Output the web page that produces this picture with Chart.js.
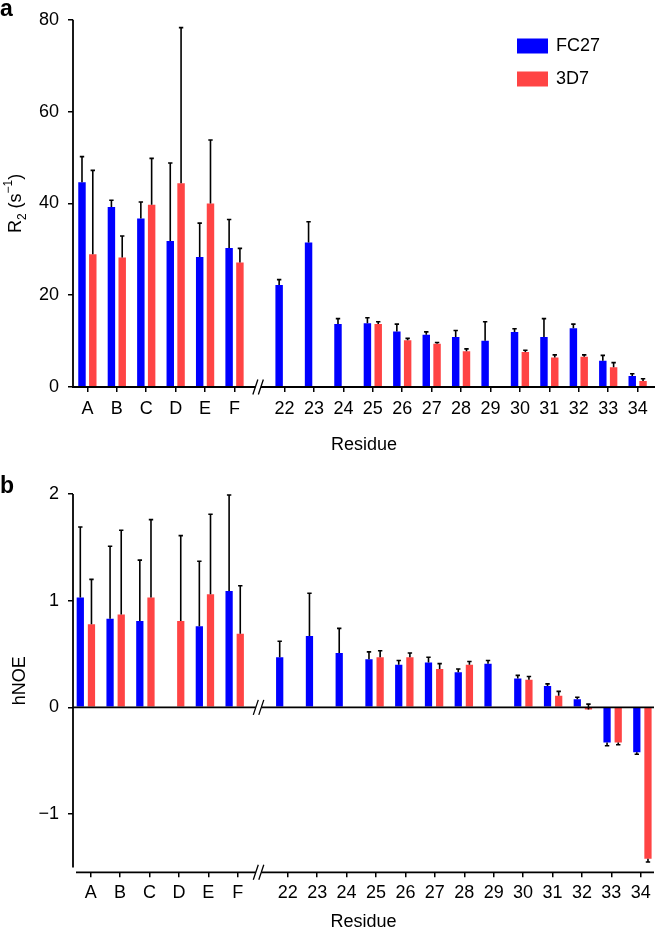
<!DOCTYPE html>
<html><head><meta charset="utf-8">
<script src="https://cdn.jsdelivr.net/npm/chart.js@4.4.1/dist/chart.umd.min.js"></script>
<style>
html,body{margin:0;padding:0;background:#fff;overflow:hidden;width:658px;height:929px;}
#wa{position:absolute;left:0;top:0;width:658px;height:462px;}
#wb{position:absolute;left:0;top:470px;width:658px;height:470px;}
canvas{display:block;}
</style></head><body>
<div id="wa"><canvas id="ca" width="658" height="462"></canvas></div>
<div id="wb"><canvas id="cb" width="658" height="470"></canvas></div>
<script>
// ---------------- data ----------------
const residues = ['A','B','C','D','E','F','22','23','24','25','26','27','28','29','30','31','32','33','34'];
const seriesNames = ['FC27', '3D7'];
const yTicksR2 = [0, 20, 40, 60, 80];
const yTicksNOE = [-1, 0, 1, 2];

const r2FC27    = [44.6, 39.2, 36.7, 31.8, 28.3, 30.3, 22.2, 31.5, 13.7, 13.9, 12.1, 11.4, 10.9, 10.1, 12.0, 10.9, 12.8, 5.7, 2.4];
const r2FC27Err = [5.6, 1.5, 3.6, 17.0, 7.4, 6.2, 1.2, 4.5, 1.2, 1.2, 1.6, 0.6, 1.4, 4.1, 0.7, 4.0, 0.9, 1.2, 0.5];
const r23D7     = [28.9, 28.2, 39.7, 44.4, 40.0, 27.1, null, null, null, 13.7, 10.2, 9.4, 7.8, null, 7.6, 6.4, 6.6, 4.3, 1.3];
const r23D7Err  = [18.3, 4.7, 10.1, 33.9, 13.8, 3.1, null, null, null, 0.5, 0.4, 0.3, 0.5, null, 0.4, 0.6, 0.4, 1.0, 0.5];

const noeFC27    = [1.03, 0.83, 0.81, null, 0.76, 1.09, 0.47, 0.67, 0.51, 0.45, 0.40, 0.42, 0.33, 0.41, 0.27, 0.20, 0.075, -0.33, -0.42];
const noeFC27Err = [0.66, 0.68, 0.57, null, 0.61, 0.90, 0.15, 0.40, 0.23, 0.07, 0.04, 0.05, 0.03, 0.03, 0.03, 0.02, 0.02, -0.03, -0.02];
const noe3D7     = [0.78, 0.87, 1.03, 0.81, 1.06, 0.69, null, null, null, 0.47, 0.47, 0.36, 0.40, null, 0.26, 0.11, -0.02, -0.33, -1.42];
const noe3D7Err  = [0.42, 0.79, 0.73, 0.80, 0.75, 0.45, null, null, null, 0.06, 0.04, 0.05, 0.03, null, 0.03, 0.04, 0.05, -0.02, -0.03];

// ---------------- styling / layout ----------------
const FONT = "'Liberation Sans', Arial, Helvetica, sans-serif";
const BLUE = '#0000ff';
const RED = '#ff4444';
Chart.defaults.font.family = FONT;
Chart.defaults.font.size = 18;
Chart.defaults.color = '#000';

// axis break between lettered and numbered residues
const nLetters = residues.filter(r => isNaN(Number(r))).length;
const BREAK_GAP = 0.7;
const xPos = residues.map((r, i) => i < nLetters ? i : i + BREAK_GAP);
const breakValue = nLetters - 1 + (1 + BREAK_GAP) / 2 - 0.05;
const pts = vals => vals.map((v, i) => ({x: xPos[i], y: v}));

const errorBarPlugin = {
  id: 'errorBars',
  afterDatasetsDraw(chart) {
    const ctx = chart.ctx;
    chart.data.datasets.forEach((ds, di) => {
      const meta = chart.getDatasetMeta(di);
      const ys = chart.scales.y;
      meta.data.forEach((bar, j) => {
        const v = ds.data[j].y, e = ds.errors[j];
        if (v == null || e == null) return;
        const y0 = ys.getPixelForValue(v), y1 = ys.getPixelForValue(v + e);
        ctx.save();
        ctx.strokeStyle = '#000';
        ctx.lineWidth = 1.6;
        ctx.beginPath();
        ctx.moveTo(bar.x, y0); ctx.lineTo(bar.x, y1);
        ctx.moveTo(bar.x - 2.2, y1); ctx.lineTo(bar.x + 2.2, y1);
        ctx.stroke();
        ctx.restore();
      });
    });
  }
};

function hLine(ctx, x0, x1, y, w) {
  ctx.save(); ctx.strokeStyle = '#000'; ctx.lineWidth = w;
  ctx.beginPath(); ctx.moveTo(x0, y); ctx.lineTo(x1, y); ctx.stroke(); ctx.restore();
}
function vLine(ctx, x, y0, y1, w) {
  ctx.save(); ctx.strokeStyle = '#000'; ctx.lineWidth = w;
  ctx.beginPath(); ctx.moveTo(x, y0); ctx.lineTo(x, y1); ctx.stroke(); ctx.restore();
}
function drawBreak(ctx, cx, cy) {
  ctx.save();
  ctx.fillStyle = '#fff';
  ctx.fillRect(cx - 2.7, cy - 2, 5.5, 4);
  ctx.strokeStyle = '#000'; ctx.lineWidth = 1.3;
  ctx.beginPath();
  ctx.moveTo(cx - 5.2, cy + 7.5); ctx.lineTo(cx - 0.2, cy - 7.5);
  ctx.moveTo(cx + 0.3, cy + 7.5); ctx.lineTo(cx + 5.3, cy - 7.5);
  ctx.stroke();
  ctx.restore();
}
function drawVerticalTitle(ctx, parts, xBase, yCenter, size) {
  const small = Math.round(size * 0.67);
  ctx.save();
  ctx.translate(xBase, yCenter);
  ctx.rotate(-Math.PI / 2);
  ctx.fillStyle = '#000';
  ctx.textBaseline = 'alphabetic';
  let w = 0;
  parts.forEach(p => { ctx.font = (p.sub || p.sup ? small : size) + 'px ' + FONT; w += ctx.measureText(p.t).width; });
  let x = -w / 2;
  parts.forEach(p => {
    ctx.font = (p.sub || p.sup ? small : size) + 'px ' + FONT;
    const dy = p.sub ? size * 0.25 : (p.sup ? -size * 0.48 : 0);
    ctx.fillText(p.t, x, dy);
    x += ctx.measureText(p.t).width;
  });
  ctx.restore();
}
function drawPanelLetter(ctx, t, x, y) {
  ctx.save(); ctx.fillStyle = '#000'; ctx.font = 'bold 23px ' + FONT;
  ctx.textBaseline = 'alphabetic'; ctx.fillText(t, x, y); ctx.restore();
}

const topFrame = {
  id: 'topFrame',
  afterDraw(chart) {
    const ctx = chart.ctx, a = chart.chartArea, ys = chart.scales.y, xs = chart.scales.x;
    const y0 = ys.getPixelForValue(0);
    vLine(ctx, a.left, ys.getPixelForValue(80), y0 + 1, 1.8);
    hLine(ctx, a.left - 1, a.right, y0, 1.8);
    drawBreak(ctx, xs.getPixelForValue(breakValue), y0);
    drawVerticalTitle(ctx, [{t: 'R'}, {t: '2', sub: true}, {t: ' (s'}, {t: '\u22121', sup: true}, {t: ')'}], 21, (a.top + a.bottom) / 2, 18);
    drawPanelLetter(ctx, 'a', 0, 16);
    // legend
    ctx.save();
    ctx.font = '18px ' + FONT; ctx.textBaseline = 'middle'; ctx.fillStyle = '#000';
    chart.data.datasets.forEach((ds, i) => {
      const top = 38.5 + i * 33;
      ctx.fillStyle = ds.backgroundColor;
      ctx.fillRect(517, top, 31, 15);
      ctx.fillStyle = '#000';
      ctx.fillText(ds.label, 556, top + 8);
    });
    ctx.restore();
  }
};

const bottomFrame = {
  id: 'bottomFrame',
  afterDraw(chart) {
    const ctx = chart.ctx, a = chart.chartArea, ys = chart.scales.y, xs = chart.scales.x;
    const y0 = ys.getPixelForValue(0);
    vLine(ctx, a.left, ys.getPixelForValue(2), ys.getPixelForValue(-1.5), 1.8);
    hLine(ctx, a.left, a.right, y0, 1.8);
    const bx = xs.getPixelForValue(breakValue);
    drawBreak(ctx, bx, y0);
    hLine(ctx, a.left + 3, a.right, a.bottom, 1.8);
    drawBreak(ctx, bx, a.bottom);
    drawVerticalTitle(ctx, [{t: 'hNOE'}], 25, (ys.getPixelForValue(2) + ys.getPixelForValue(-1.5)) / 2, 18);
    drawPanelLetter(ctx, 'b', 0, 23.3);
  }
};

const tickGrid = {drawOnChartArea: false, drawTicks: true, tickLength: 5, color: '#000', lineWidth: 1.5, offset: false};
const setXTicks = s => { s.ticks = xPos.map(v => ({value: v})); };

// ---------------- panel a ----------------
new Chart(document.getElementById('ca'), {
  type: 'bar',
  data: {datasets: [
    {label: seriesNames[0], data: pts(r2FC27), errors: r2FC27Err, backgroundColor: BLUE, categoryPercentage: 0.734, barPercentage: 0.69},
    {label: seriesNames[1], data: pts(r23D7), errors: r23D7Err, backgroundColor: RED, categoryPercentage: 0.734, barPercentage: 0.69}
  ]},
  options: {
    responsive: false, animation: false, devicePixelRatio: 1,
    layout: {padding: {left: 0, right: 3, top: 14, bottom: 0}},
    plugins: {legend: {display: false}, tooltip: {enabled: false}},
    scales: {
      x: {
        type: 'linear', min: -0.489, max: 19.29, offset: false,
        border: {display: false}, grid: tickGrid,
        afterBuildTicks: setXTicks,
        ticks: {autoSkip: false, maxRotation: 0, padding: 6, color: '#000', callback: (v, i) => residues[i]},
        title: {display: true, text: 'Residue', color: '#000', padding: {top: 0, bottom: 6}},
        afterFit: s => { s.height = 75; }
      },
      y: {
        type: 'linear', min: yTicksR2[0], max: yTicksR2[yTicksR2.length - 1],
        afterBuildTicks: s => { s.ticks = yTicksR2.map(v => ({value: v})); },
        border: {display: false}, grid: tickGrid,
        ticks: {padding: 9, color: '#000'},
        afterFit: s => { s.width = 73; }
      }
    }
  },
  plugins: [errorBarPlugin, topFrame]
});

// ---------------- panel b ----------------
new Chart(document.getElementById('cb'), {
  type: 'bar',
  data: {datasets: [
    {label: seriesNames[0], data: pts(noeFC27), errors: noeFC27Err, backgroundColor: BLUE, categoryPercentage: 0.75, barPercentage: 0.65, xAxisID: 'x'},
    {label: seriesNames[1], data: pts(noe3D7), errors: noe3D7Err, backgroundColor: RED, categoryPercentage: 0.75, barPercentage: 0.65, xAxisID: 'x'}
  ]},
  options: {
    responsive: false, animation: false, devicePixelRatio: 1,
    layout: {padding: {left: 0, right: 4, top: 24, bottom: 0}},
    plugins: {legend: {display: false}, tooltip: {enabled: false}},
    scales: {
      x: {
        type: 'linear', display: false, min: -0.433, max: 19.09, offset: false,
        afterBuildTicks: setXTicks
      },
      xt: {
        type: 'linear', axis: 'x', position: 'bottom', min: -0.602, max: 19.15, offset: false,
        border: {display: false}, grid: tickGrid,
        afterBuildTicks: setXTicks,
        ticks: {autoSkip: false, maxRotation: 0, padding: 5, color: '#000', callback: (v, i) => residues[i]},
        title: {display: true, text: 'Residue', color: '#000', padding: {top: 0, bottom: 7}},
        afterFit: s => { s.height = 67.7; }
      },
      y: {
        type: 'linear', min: -1.546, max: 2,
        afterBuildTicks: s => { s.ticks = yTicksNOE.map(v => ({value: v})); },
        border: {display: false}, grid: tickGrid,
        ticks: {padding: 9, color: '#000', callback: v => v < 0 ? '\u2212' + Math.abs(v) : String(v)},
        afterFit: s => { s.width = 73; }
      }
    }
  },
  plugins: [errorBarPlugin, bottomFrame]
});
</script>
</body></html>
